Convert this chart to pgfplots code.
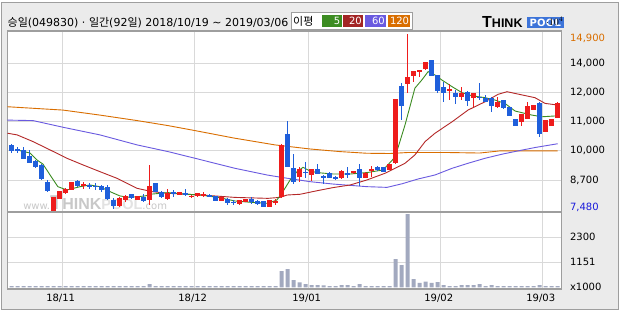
\documentclass[border=0pt]{standalone}
\usepackage{fontspec}
\setmainfont{DejaVu Sans}
\newfontfamily\kr{Noto Sans CJK KR}
\newfontfamily\logofont{Liberation Sans}
\usepackage{pgfplots}
\pgfplotsset{compat=1.18}
\usepackage{pgfplotstable}

\definecolor{bg}{HTML}{EBEBEB}
\definecolor{framec}{HTML}{9E9E9E}
\definecolor{gridc}{HTML}{D9D9D9}
\definecolor{upc}{HTML}{EE1C1C}
\definecolor{dnc}{HTML}{1F5FDB}
\definecolor{ma5}{HTML}{3C8C22}
\definecolor{ma20}{HTML}{B42828}
\definecolor{ma60}{HTML}{6A5AE0}
\definecolor{ma120}{HTML}{D96E00}
\definecolor{volc}{HTML}{A2A9BF}
\definecolor{wm}{HTML}{C8C8C8}
\definecolor{wml}{HTML}{E2E2E2}
\definecolor{logob}{HTML}{3D74D9}
\definecolor{minc}{HTML}{1A1ADC}

\pgfplotstableread{
i o h l c
7 7490 8080 7480 8080
8 8000 8330 7980 8330
9 8230 8440 8210 8420
10 8380 8710 8360 8700
12 8560 8710 8390 8600
18 7670 8080 7650 8020
19 7940 8150 7870 8110
21 7960 8110 7940 8090
23 7940 9410 7730 8530
26 8000 8400 7940 8230
28 8160 8280 8150 8260
30 8070 8130 8010 8110
31 8100 8230 8080 8220
32 8090 8260 8070 8180
35 7910 8070 7900 8050
38 7770 7960 7750 7940
39 7860 8000 7850 7980
43 7660 7960 7650 7940
44 7850 7970 7730 7890
45 8050 10270 8030 10250
48 8920 9340 8710 9230
50 8990 9240 8750 9230
55 8850 9180 8840 9160
57 9070 9160 9050 9140
59 8860 9100 8850 9090
60 9190 9370 8890 9230
63 9200 9450 9190 9440
64 9480 12180 9470 12170
66 12800 14900 12410 13100
67 13150 13360 12900 13350
68 13330 13380 13110 13370
69 13420 13740 13410 13730
73 12550 12790 12130 12590
75 12270 12670 12130 12440
77 12200 12440 11850 12430
81 11830 12250 11810 12040
85 11220 11550 11060 11530
86 11350 12040 11340 11880
87 11710 11930 11700 11920
89 10800 11300 10790 11290
90 11060 11350 11040 11340
91 11370 12050 11360 12020
}\upT

\pgfplotstableread{
i o h l c
0 10250 10290 9920 10010
1 10080 10180 9900 10020
2 10020 10150 9670 9680
3 9770 10040 9490 9500
4 9560 9620 9270 9320
5 9410 9450 8780 8810
6 8710 8780 8280 8310
11 8730 8780 8500 8540
13 8560 8670 8390 8520
14 8540 8670 8360 8510
15 8530 8590 8290 8380
16 8480 8570 7940 8000
17 7950 8030 7560 7710
20 8180 8210 7980 8010
22 8070 8180 7860 7910
24 8640 8650 8280 8290
25 8290 8300 8030 8050
27 8260 8360 8050 8210
29 8230 8390 8110 8190
33 8140 8180 8070 8100
34 8090 8110 7900 7910
36 7970 8040 7730 7820
37 7870 7940 7730 7840
40 7990 8050 7770 7840
41 7900 7920 7750 7770
42 7910 7920 7650 7660
46 10710 11250 9320 9340
47 9270 9870 8610 8700
49 9120 9530 8860 9070
51 9240 9450 9030 9040
52 8950 8990 8610 8890
53 9090 9100 8860 8880
54 8910 8930 8780 8850
56 9090 9320 8860 8990
58 9240 9450 8530 8880
61 9340 9350 9170 9190
62 9310 9320 9110 9130
65 12740 12830 11280 11890
70 13810 13820 13140 13150
71 13170 13180 12410 12520
72 12690 12900 12060 12410
74 12430 12550 11960 12270
76 12480 12490 11880 12100
78 12260 12830 12130 12220
79 12230 12340 12050 12060
80 12230 12240 11640 11890
82 12130 12150 11770 11790
83 11850 11860 11460 11480
84 11340 11350 11040 11060
88 12020 12030 10570 10710
}\dnT

\pgfplotstableread{
i v
0 60
1 60
2 60
3 60
4 60
5 60
6 60
7 60
8 60
9 60
10 60
11 60
12 60
13 60
14 60
15 60
16 60
17 60
18 60
19 60
20 60
21 60
22 60
23 150
24 60
25 60
26 60
27 60
28 60
29 60
30 60
31 60
32 60
33 60
34 60
35 60
36 60
37 60
38 60
39 60
40 60
41 60
42 60
43 60
44 60
45 750
46 840
47 335
48 230
49 150
50 100
51 100
52 90
53 60
54 60
55 100
56 100
57 60
58 150
59 60
60 60
61 60
62 60
63 60
64 1300
65 1025
66 3370
67 380
68 210
69 260
70 210
71 240
72 100
73 60
74 60
75 100
76 100
77 100
78 150
79 60
80 100
81 60
82 60
83 60
84 60
85 60
86 60
87 60
88 100
89 60
90 60
91 60
}\volT

\pgfplotstableread{
i m
-0.7 11850
8.55 11710
14.7 11500
20.9 11270
26.05 11060
30.55 10850
37.2 10530
43.9 10250
49.7 10080
54.7 9970
59.2 9900
63.05 9890
65.9 9930
73 9930
78 9910
81.4 10000
91 10000
}\maA

\pgfplotstableread{
i m
-0.7 11290
3.55 11270
8.55 10990
14.7 10670
20.9 10250
26.05 9970
30.55 9690
37.2 9270
42.55 8990
45.2 8880
49.7 8710
53.55 8610
59.2 8500
62.55 8470
64.2 8570
65.05 8620
67.7 8820
70.55 8990
73.4 9270
76.05 9480
78.9 9690
81.7 9860
84.4 10000
87.2 10140
91 10300
}\maB

\pgfplotstableread{
i m
-0.7 10740
0.9 10670
3.55 10390
6.4 10040
9.2 9690
11.9 9410
14.7 9130
17.55 8850
20.9 8430
23.4 8290
26.05 8220
31.7 8150
37.2 8050
42.7 8010
44.7 8050
45.9 8150
48.05 8180
50.9 8330
53.55 8460
56.4 8570
59.2 8780
62.2 9060
63.9 9270
65.55 9480
67.2 9830
68.9 10390
70.55 10740
73.4 11220
76.05 11710
78.9 12060
81.05 12370
82.55 12480
84.4 12380
87.2 12230
88.9 11990
91 11920
}\maC

\pgfplotstableread{
i m
1.4 10010
3.05 9910
4.2 9620
5.2 9450
6.4 8990
7.7 8500
9.2 8360
11.4 8500
13.05 8570
14.7 8500
16.4 8290
18.05 8110
19.7 8050
22.2 8110
23.4 8190
26.05 8250
28.9 8190
31.7 8140
34.4 8050
37.2 7900
40.05 7840
42.7 7800
44.2 7940
45.2 8290
46.4 8780
47.55 9130
48.55 9310
49.7 9160
50.9 9090
53.55 9030
56.4 9030
59.2 9090
61.9 9200
63.9 9740
65.55 11085
67.2 12630
68.35 12970
69.4 13320
70.55 13180
71.7 12970
73.4 12690
75.05 12440
76.7 12310
78.9 12230
80.55 12130
82.2 11990
83.9 11670
85.55 11570
86.7 11500
88.4 11430
91 11470
}\maD

\pgfplotsset{
  chartbase/.style={
    scale only axis, anchor=south west,
    width=554.2pt,
    xmin=-0.73, xmax=91.63,
    axis background/.style={fill=white},
    axis line style={draw=framec, line width=1.2pt},
    grid=major, grid style={gridc, line width=0.9pt},
    major tick length=0pt,
    xtick={8.5,30.5,49.5,71.5,88.5},
    yticklabel pos=right,
    tick label style={font=\fontsize{10}{12}\selectfont},
    yticklabel style={anchor=west, xshift=5pt},
    extra y tick style={grid=none},
  },
  wick/.style={draw=none, forget plot,
    error bars/.cd, y dir=both, y explicit, error mark=none,
    error bar style={draw=#1, line width=1pt}},
  body/.style={draw=none, forget plot,
    error bars/.cd, y dir=both, y explicit, error mark=none,
    error bar style={draw=#1, line width=4.5pt}},
}

\begin{document}
\begin{tikzpicture}[x=1pt,y=1pt]
\path[use as bounding box, fill=white] (0,0) rectangle (620,310);
\draw[framec, line width=1pt, fill=bg] (1.7,0.7) rectangle (618.3,307.3);

% title
\node[anchor=west, inner sep=0pt] at (7.5,287) {\fontsize{11}{13}\selectfont {\kr 승일}(049830) · {\kr 일간}(92{\kr 일}) 2018/10/19 \textasciitilde{} 2019/03/06};

% legend box
\draw[framec, line width=0.8pt, fill=white] (291,297.3) rectangle (412,280.7);
\node[anchor=west, inner sep=0pt] at (293,289) {\kr\fontsize{11}{13}\selectfont 이평};
\fill[ma5] (321.7,295) rectangle (341.7,283.3);
\fill[ma20!90!black] (342.7,295) rectangle (363.3,283.3);
\fill[ma60] (365,295) rectangle (386,283.3);
\fill[ma120] (387.7,295) rectangle (410,283.3);
\node[anchor=east, inner sep=0pt, text=white] at (340.5,289) {\fontsize{10}{12}\selectfont 5};
\node[anchor=east, inner sep=0pt, text=white] at (362,289) {\fontsize{10}{12}\selectfont 20};
\node[anchor=east, inner sep=0pt, text=white] at (385,289) {\fontsize{10}{12}\selectfont 60};
\node[anchor=east, inner sep=0pt, text=white] at (409.3,289) {\fontsize{10}{12}\selectfont 120};

% logo
\fill[logob] (526.7,293.3) rectangle (564,281.7);
\node[anchor=base west, inner sep=0pt] at (482,282.3) {\logofont\bfseries\fontsize{16}{16}\selectfont T\fontsize{12.5}{13}\selectfont HINK};
\node[anchor=base, inner sep=0pt, text=white] at (545.3,283.4) {\bfseries\fontsize{10}{11}\selectfont P\kern0.2pt O\kern0.2pt O\kern0.2pt L};

% price panel
\begin{axis}[chartbase,
  at={(7.3pt,98pt)}, height=181pt,
  ymin=7438, ymax=15025,
  xticklabels={},
  ytick={8779,10008,11253,12456,13671},
  yticklabels={{8,700},{10,000},{11,000},{12,000},{14,000}},
  extra y ticks={14703,7648},
  extra y tick labels={{\textcolor{ma120}{14,900}},{\textcolor{minc}{7,480}}},
]
\node[anchor=base west, inner sep=0pt, text=wm] at (axis cs:1.9,7522)
  {\fontsize{10}{10}\selectfont www.{\logofont\bfseries\fontsize{20}{20}\selectfont T\fontsize{16}{16}\selectfont HINK}{\color{wml}\logofont\bfseries\fontsize{14.5}{15}\selectfont POOL}.com};
\addplot[ma120, line width=0.9pt] table[x=i,y=m]{\maA};
\addplot[ma60, line width=0.9pt] table[x=i,y=m]{\maB};
\addplot[ma20, line width=0.9pt] table[x=i,y=m]{\maC};
\addplot[ma5, line width=0.9pt] table[x=i,y=m]{\maD};
\addplot[wick=upc] table[x=i, y expr={(\thisrow{h}+\thisrow{l})/2}, y error expr={(\thisrow{h}-\thisrow{l})/2}]{\upT};
\addplot[wick=dnc] table[x=i, y expr={(\thisrow{h}+\thisrow{l})/2}, y error expr={(\thisrow{h}-\thisrow{l})/2}]{\dnT};
\addplot[body=upc] table[x=i, y expr={(\thisrow{o}+\thisrow{c})/2}, y error expr={max(abs(\thisrow{o}-\thisrow{c}),30)/2}]{\upT};
\addplot[body=dnc] table[x=i, y expr={(\thisrow{o}+\thisrow{c})/2}, y error expr={max(abs(\thisrow{o}-\thisrow{c}),30)/2}]{\dnT};
\end{axis}

% volume panel
\begin{axis}[chartbase,
  at={(7.3pt,21pt)}, height=77pt,
  ymin=-76, ymax=3463,
  xticklabels={18/11,18/12,19/01,19/02,19/03},
  xticklabel style={yshift=-2pt, xshift=-2pt},
  ytick={1151,2300},
  yticklabels={1151,2300},
  extra y ticks={0},
  extra y tick labels={x1000},
]
\addplot[ybar, bar width=4pt, fill=volc, draw=none] table[x=i,y=v]{\volT};
\end{axis}
\end{tikzpicture}
\end{document}
